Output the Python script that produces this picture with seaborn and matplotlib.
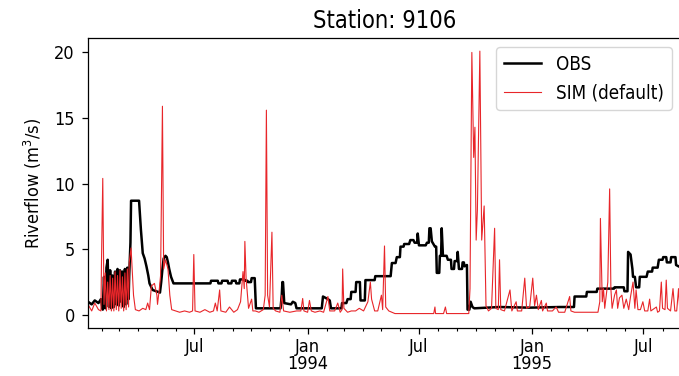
import matplotlib
matplotlib.use("Agg")
import matplotlib.pyplot as plt
import matplotlib.dates as mdates
from matplotlib import font_manager as fm
import pandas as pd
import seaborn as sns

# ---------------- data ----------------
title = "Station: 9106"
ylabel = "Riverflow (m$^3$/s)"
obs_label = "OBS"
sim_label = "SIM (default)"

obs_dates = [
    "1993-01-09", "1993-01-15", "1993-01-20", "1993-01-26", "1993-01-30", "1993-02-02",
    "1993-02-04", "1993-02-06", "1993-02-08", "1993-02-10", "1993-02-12", "1993-02-14",
    "1993-02-16", "1993-02-18", "1993-02-20", "1993-02-22", "1993-02-24", "1993-02-26",
    "1993-02-28", "1993-03-02", "1993-03-04", "1993-03-06", "1993-03-08", "1993-03-10",
    "1993-03-12", "1993-03-14", "1993-03-16", "1993-03-17", "1993-03-19", "1993-03-20",
    "1993-04-02", "1993-04-05", "1993-04-08", "1993-04-11", "1993-04-14", "1993-04-17",
    "1993-04-19", "1993-04-24", "1993-05-06", "1993-05-08", "1993-05-10", "1993-05-12",
    "1993-05-15", "1993-05-17", "1993-05-19", "1993-05-21", "1993-05-24", "1993-05-28",
    "1993-07-27", "1993-07-28", "1993-08-08", "1993-08-09", "1993-08-14", "1993-08-15",
    "1993-08-24", "1993-08-25", "1993-08-30", "1993-08-31", "1993-09-06", "1993-09-07",
    "1993-09-12", "1993-09-13", "1993-09-20", "1993-09-21", "1993-09-25", "1993-09-26",
    "1993-10-01", "1993-10-02", "1993-10-07", "1993-10-09", "1993-11-18", "1993-11-20",
    "1993-11-21", "1993-11-22", "1993-11-24", "1993-12-05", "1993-12-08", "1993-12-12",
    "1993-12-14", "1994-01-24", "1994-01-26", "1994-02-03", "1994-02-06", "1994-02-08",
    "1994-02-25", "1994-02-26", "1994-03-05", "1994-03-07", "1994-03-12", "1994-03-13",
    "1994-03-20", "1994-03-21", "1994-03-27", "1994-03-28", "1994-04-04", "1994-04-05",
    "1994-04-20", "1994-04-21", "1994-05-16", "1994-05-18", "1994-05-24", "1994-05-26",
    "1994-05-31", "1994-06-01", "1994-06-06", "1994-06-07", "1994-06-15", "1994-06-17",
    "1994-06-22", "1994-06-24", "1994-06-28", "1994-06-29", "1994-07-01", "1994-07-12",
    "1994-07-14", "1994-07-17", "1994-07-18", "1994-07-20", "1994-07-22", "1994-07-27",
    "1994-07-29", "1994-07-30", "1994-08-03", "1994-08-04", "1994-08-06", "1994-08-07",
    "1994-08-09", "1994-08-15", "1994-08-17", "1994-08-22", "1994-08-23", "1994-08-27",
    "1994-08-28", "1994-09-01", "1994-09-02", "1994-09-04", "1994-09-09", "1994-09-10",
    "1994-09-12", "1994-09-13", "1994-09-17", "1994-09-18", "1994-09-21", "1994-09-23",
    "1994-09-26", "1994-09-29", "1994-11-09", "1994-12-28", "1995-02-15", "1995-03-10",
    "1995-03-11", "1995-03-30", "1995-03-31", "1995-04-16", "1995-04-17", "1995-05-14",
    "1995-05-15", "1995-05-30", "1995-05-31", "1995-06-05", "1995-06-06", "1995-06-10",
    "1995-06-13", "1995-06-14", "1995-06-17", "1995-06-19", "1995-06-24", "1995-06-25",
    "1995-07-06", "1995-07-08", "1995-07-15", "1995-07-16", "1995-07-24", "1995-07-26",
    "1995-08-01", "1995-08-02", "1995-08-07", "1995-08-08", "1995-08-14", "1995-08-15",
    "1995-08-22", "1995-08-23", "1995-08-31",
]
obs_values = [
    1.0, 0.8, 1.1, 0.9, 1.2, 0.4,
    2.9, 0.5, 3.6, 4.2, 0.6, 3.4,
    0.5, 3.0, 0.6, 3.3, 0.8, 3.5,
    0.7, 3.4, 1.0, 3.3, 0.6, 3.5,
    0.8, 3.6, 1.2, 3.0, 5.5, 8.7,
    8.7, 6.5, 4.7, 4.3, 3.7, 3.0,
    2.4, 1.9, 1.7, 2.5, 3.5, 4.3,
    4.5, 4.4, 4.0, 3.5, 2.9, 2.4,
    2.4, 2.6, 2.6, 2.4, 2.4, 2.6,
    2.6, 2.4, 2.4, 2.6, 2.6, 2.4,
    2.4, 2.7, 2.7, 2.6, 2.6, 2.5,
    2.5, 2.8, 2.8, 0.5, 0.5, 1.5,
    2.5, 2.5, 0.9, 0.8, 1.0, 0.9,
    0.5, 0.5, 1.4, 1.2, 1.1, 0.5,
    0.5, 0.9, 0.9, 1.2, 1.2, 1.75,
    1.75, 2.5, 2.5, 1.1, 1.1, 2.65,
    2.65, 2.95, 2.95, 3.95, 3.95, 4.4,
    4.4, 5.2, 5.2, 5.4, 5.4, 5.7,
    5.7, 5.5, 5.5, 6.2, 5.3, 5.3,
    5.5, 5.5, 6.6, 6.6, 5.6, 5.2,
    5.2, 3.2, 3.2, 4.5, 4.5, 6.6,
    4.5, 4.5, 4.2, 4.2, 3.5, 3.5,
    4.1, 4.1, 4.8, 3.5, 3.5, 4.0,
    4.0, 3.7, 3.8, 0.4, 0.4, 1.0,
    0.6, 0.5, 0.6, 0.55, 0.6, 0.6,
    1.4, 1.4, 1.75, 1.75, 2.0, 2.0,
    2.1, 2.1, 1.8, 1.8, 4.8, 4.6,
    3.5, 2.9, 2.9, 2.1, 2.1, 2.9,
    2.9, 3.3, 3.3, 3.6, 3.6, 4.2,
    4.2, 4.4, 4.4, 4.0, 4.0, 4.4,
    4.4, 3.8, 3.6,
]

sim_dates = [
    "1993-01-09", "1993-01-15", "1993-01-20", "1993-01-26", "1993-01-30", "1993-01-31",
    "1993-02-02", "1993-02-04", "1993-02-06", "1993-02-08", "1993-02-10", "1993-02-12",
    "1993-02-14", "1993-02-16", "1993-02-18", "1993-02-20", "1993-02-22", "1993-02-24",
    "1993-02-26", "1993-02-28", "1993-03-02", "1993-03-04", "1993-03-06", "1993-03-08",
    "1993-03-10", "1993-03-12", "1993-03-14", "1993-03-16", "1993-03-17", "1993-03-20",
    "1993-03-24", "1993-03-27", "1993-04-02", "1993-04-08", "1993-04-13", "1993-04-16",
    "1993-04-19", "1993-04-22", "1993-04-27", "1993-05-01", "1993-05-02", "1993-05-05",
    "1993-05-07", "1993-05-10", "1993-05-12", "1993-05-15", "1993-05-19", "1993-05-22",
    "1993-05-25", "1993-06-07", "1993-06-15", "1993-06-23", "1993-06-28", "1993-06-30",
    "1993-07-02", "1993-07-10", "1993-07-18", "1993-07-26", "1993-08-01", "1993-08-04",
    "1993-08-07", "1993-08-11", "1993-08-13", "1993-08-21", "1993-08-27", "1993-09-03",
    "1993-09-09", "1993-09-14", "1993-09-18", "1993-09-20", "1993-09-21", "1993-09-23",
    "1993-09-27", "1993-10-02", "1993-10-04", "1993-10-08", "1993-10-14", "1993-10-21",
    "1993-10-24", "1993-10-26", "1993-10-28", "1993-10-31", "1993-11-04", "1993-11-06",
    "1993-11-10", "1993-11-17", "1993-11-20", "1993-11-23", "1993-12-03", "1993-12-14",
    "1993-12-21", "1993-12-24", "1993-12-26", "1994-01-01", "1994-01-04", "1994-01-07",
    "1994-01-13", "1994-01-21", "1994-01-27", "1994-02-03", "1994-02-06", "1994-02-14",
    "1994-02-19", "1994-02-23", "1994-02-26", "1994-02-27", "1994-03-01", "1994-03-07",
    "1994-03-13", "1994-03-20", "1994-03-26", "1994-04-02", "1994-04-09", "1994-04-13",
    "1994-04-15", "1994-04-20", "1994-04-25", "1994-05-01", "1994-05-03", "1994-05-06",
    "1994-05-08", "1994-05-13", "1994-05-23", "1994-06-16", "1994-07-19", "1994-07-25",
    "1994-07-27", "1994-07-28", "1994-08-10", "1994-08-13", "1994-08-15", "1994-09-20",
    "1994-09-22", "1994-09-25", "1994-09-28", "1994-09-30", "1994-10-02", "1994-10-04",
    "1994-10-08", "1994-10-11", "1994-10-15", "1994-10-18", "1994-10-22", "1994-10-27",
    "1994-11-01", "1994-11-03", "1994-11-07", "1994-11-09", "1994-11-11", "1994-11-17",
    "1994-11-26", "1994-11-29", "1994-12-06", "1994-12-08", "1994-12-15", "1994-12-20",
    "1994-12-23", "1994-12-28", "1995-01-02", "1995-01-05", "1995-01-08", "1995-01-11",
    "1995-01-16", "1995-01-18", "1995-01-24", "1995-01-26", "1995-02-03", "1995-02-09",
    "1995-02-13", "1995-02-23", "1995-03-03", "1995-03-05", "1995-03-11", "1995-03-20",
    "1995-04-05", "1995-04-18", "1995-04-21", "1995-04-22", "1995-04-25", "1995-04-27",
    "1995-04-29", "1995-05-04", "1995-05-07", "1995-05-09", "1995-05-11", "1995-05-15",
    "1995-05-18", "1995-05-20", "1995-05-23", "1995-05-27", "1995-05-30", "1995-06-03",
    "1995-06-07", "1995-06-10", "1995-06-14", "1995-06-17", "1995-06-19", "1995-06-22",
    "1995-06-26", "1995-06-30", "1995-07-03", "1995-07-08", "1995-07-11", "1995-07-13",
    "1995-07-22", "1995-07-24", "1995-07-27", "1995-07-30", "1995-08-01", "1995-08-05",
    "1995-08-07", "1995-08-09", "1995-08-14", "1995-08-18", "1995-08-21", "1995-08-24",
    "1995-08-27", "1995-08-29", "1995-08-31",
]
sim_values = [
    0.8, 0.3, 0.9, 0.4, 0.3, 4.3,
    10.4, 0.8, 3.2, 0.3, 2.5, 0.4,
    3.0, 0.3, 2.8, 0.3, 3.3, 0.4,
    3.0, 0.3, 3.4, 0.5, 2.9, 0.3,
    3.2, 0.4, 3.5, 0.6, 4.0, 5.1,
    1.5, 0.4, 0.3, 0.5, 0.4, 0.9,
    0.4, 2.2, 2.4, 1.5, 0.8, 2.0,
    3.0, 15.9, 3.5, 4.2, 3.5, 1.5,
    0.4, 0.2, 0.3, 0.2, 0.3, 4.6,
    0.3, 0.2, 0.4, 0.2, 0.3, 0.9,
    0.3, 1.9, 0.3, 0.2, 0.6, 0.2,
    0.4, 1.0, 3.3, 2.0, 5.6, 2.8,
    0.5, 1.2, 0.3, 0.3, 0.2, 0.4,
    1.5, 15.6, 1.5, 0.6, 6.3, 0.5,
    0.3, 0.2, 1.5, 0.3, 0.2, 0.3,
    0.3, 1.25, 0.3, 0.2, 1.1, 0.3,
    0.2, 0.3, 0.2, 1.4, 0.3, 0.3,
    0.9, 0.2, 0.4, 3.5, 0.5, 0.2,
    0.3, 0.3, 0.5, 0.3, 1.0, 2.5,
    1.2, 0.3, 0.3, 1.5, 0.4, 5.25,
    0.6, 0.3, 0.1, 0.1, 0.1, 0.1,
    0.6, 0.1, 0.1, 0.6, 0.1, 0.1,
    2.0, 20.0, 12.0, 14.3, 5.7, 8.0,
    20.1, 5.7, 8.3, 0.7, 0.3, 0.5,
    6.6, 0.5, 0.4, 4.2, 0.4, 0.3,
    1.9, 0.3, 1.0, 0.3, 0.3, 2.8,
    0.5, 0.6, 2.8, 0.7, 1.5, 0.4,
    1.1, 0.3, 0.9, 0.3, 0.3, 0.6,
    0.2, 0.2, 1.4, 0.3, 0.2, 0.2,
    0.2, 0.2, 1.0, 7.35, 1.0, 2.0,
    0.5, 2.5, 9.6, 2.0, 0.5, 1.5,
    1.9, 0.5, 1.3, 1.5, 0.5, 1.2,
    0.4, 1.4, 2.5, 0.5, 1.9, 0.4,
    0.4, 1.0, 0.3, 0.3, 1.2, 0.3,
    0.6, 0.2, 0.3, 2.5, 0.5, 0.4,
    2.65, 0.5, 0.3, 2.0, 0.3, 0.3,
    2.0, 0.4, 0.5,
]

x_start = "1993-01-09"
x_end = "1995-08-31"

# ---------------- fonts ----------------
_cond = fm.findfont(fm.FontProperties(family="DejaVu Sans", stretch="condensed"),
                    fallback_to_default=True)
if "Condensed" in _cond:
    plt.rcParams["font.family"] = "DejaVu Sans"
    plt.rcParams["font.stretch"] = "condensed"
    title_size = 17
else:
    plt.rcParams["font.family"] = "Liberation Sans"
    title_size = 19
base_size = 13

# ---------------- plot ----------------
obs_df = pd.DataFrame({"date": pd.to_datetime(obs_dates), "flow": obs_values})
sim_df = pd.DataFrame({"date": pd.to_datetime(sim_dates), "flow": sim_values})

fig = plt.figure(figsize=(6.79, 3.76), dpi=100)
ax = fig.add_axes([88 / 679, 1 - 328 / 376, (681 - 88) / 679, (328 - 38) / 376])

sns.lineplot(data=obs_df, x="date", y="flow", ax=ax, color="black",
             linewidth=1.8, label=obs_label, estimator=None)
sns.lineplot(data=sim_df, x="date", y="flow", ax=ax, color="#e8262a",
             linewidth=0.8, label=sim_label, estimator=None)

ax.set_xlim(pd.Timestamp(x_start), pd.Timestamp(x_end))
ax.set_ylim(-1.0, 21.1)
ax.set_yticks([0, 5, 10, 15, 20])

ax.xaxis.set_major_locator(mdates.MonthLocator(bymonth=[1, 7]))
ax.xaxis.set_minor_locator(mdates.MonthLocator())


def fmt(x, pos=None):
    d = mdates.num2date(x)
    if d.month == 1:
        return "Jan\n%d" % d.year
    return d.strftime("%b")


ax.xaxis.set_major_formatter(plt.FuncFormatter(fmt))
ax.xaxis.set_minor_formatter(plt.NullFormatter())
ax.tick_params(axis="both", which="major", labelsize=base_size, length=4.5, width=0.9)
ax.tick_params(axis="y", which="major", pad=5)
ax.tick_params(axis="x", which="major", pad=2.5)
ax.tick_params(axis="x", which="minor", length=2.5, width=0.8)
for lab in ax.get_xticklabels():
    lab.set_ha("center")
    lab.set_linespacing(0.95)

for s in ax.spines.values():
    s.set_linewidth(0.9)

ax.set_xlabel("")
ax.set_ylabel(ylabel, fontsize=13, labelpad=7)
ax.set_title(title, fontsize=title_size, pad=7)
ax.legend(loc="upper right", fontsize=13.5)

fig.savefig("out.png", dpi=100)
